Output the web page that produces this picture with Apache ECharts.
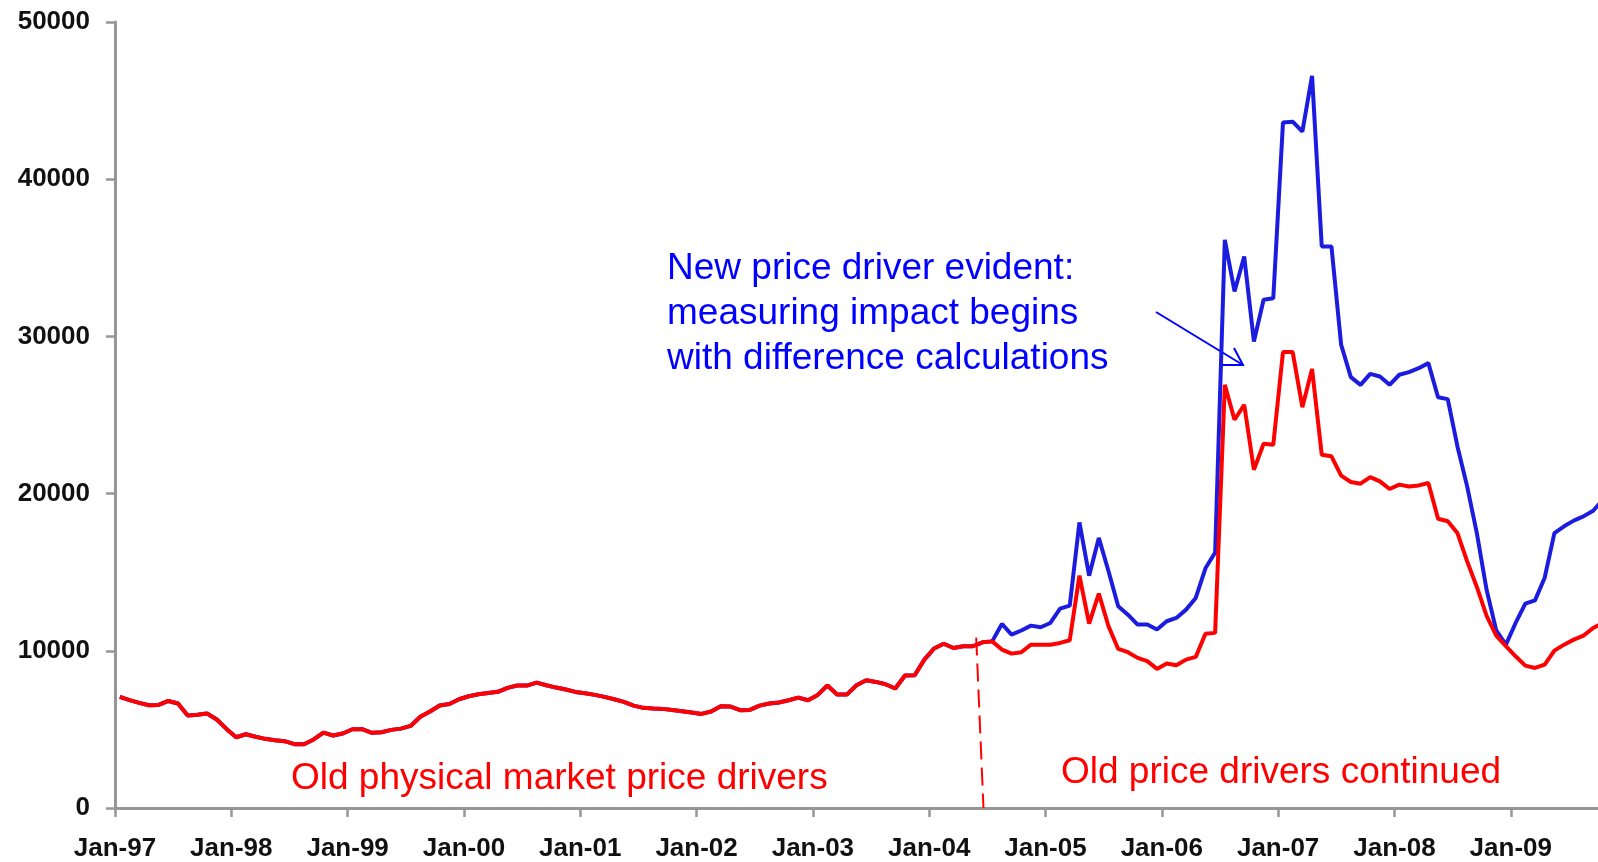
<!DOCTYPE html>
<html><head><meta charset="utf-8">
<script src="https://cdn.jsdelivr.net/npm/echarts/dist/echarts.min.js"></script>
<style>html,body{margin:0;padding:0;background:#fff;}#c{width:1598px;height:862px;}</style>
</head><body><div id="c"></div>
<script>
// x tick labels (one per January, every 12 months from Jan-97)
const tickLabels = ['Jan-97','Jan-98','Jan-99','Jan-00','Jan-01','Jan-02','Jan-03','Jan-04','Jan-05','Jan-06','Jan-07','Jan-08','Jan-09'];
// monthly values Jan-97 .. Jul-04 where both series coincide
const sharedValues = [
 7070,6860,6690,6540,6560,6810,6650,5880,5930,6010,5630,5030,
 4500,4690,4530,4400,4310,4250,4060,4060,4360,4800,4610,4740,
 5010,5010,4780,4820,4970,5050,5220,5800,6140,6520,6620,6920,
 7110,7240,7320,7390,7640,7790,7790,7980,7810,7660,7535,7385,
 7300,7195,7070,6920,6750,6515,6370,6325,6305,6240,6155,6070,
 5985,6135,6475,6455,6220,6240,6515,6645,6710,6855,7025,6855,
 7195,7790,7215,7215,7810,8125,8020,7870,7600,8425,8445,9440,
 10150,10450,10180,10290,10290,10540,10600
];
// Aug-04 .. Oct-09 : old price drivers (red)
const redAfter = [
 10080,9820,9910,10390,10390,
 10390,10500,10670,14780,11730,13640,11560,10120,9910,9550,9340,8850,
 9190,9080,9440,9610,11090,11140,26920,24700,25650,21520,23170,23110,
 29000,29000,25500,27920,22470,22370,21140,20740,20630,21050,20780,20290,
 20570,20450,20520,20670,18400,18240,17490,15690,14060,12240,10970,10300,
 9650,9060,8910,9120,10010,10390,10710,10970,11450,11770
];
// Aug-04 .. Oct-09 : including new price driver (blue)
const blueAfter = [
 11710,11030,11290,11600,11500,
 11770,12680,12870,18170,14780,17180,15060,12830,12300,11670,11670,11350,
 11880,12090,12620,13360,15250,16250,36140,32860,35080,29680,32330,32430,
 43600,43660,43030,46570,35720,35720,29470,27410,26920,27620,27450,26920,
 27560,27730,27980,28300,26130,26010,23000,20460,17490,13900,11300,10390,
 11770,13000,13210,14650,17490,17920,18280,18550,18910,19600
];

// each monthly point sits mid-month (half a month after its tick)
const redSeries = sharedValues.concat(redAfter).map((v,i)=>[i+0.5,v]);
const blueSeries = sharedValues.concat(blueAfter).map((v,i)=>[i+0.5,v]);
const axisMax = 153;

const chart = echarts.init(document.getElementById('c'), null, {renderer:'canvas'});
const axisFont = {fontFamily:'"Liberation Sans", Arial, sans-serif', fontWeight:'bold', fontSize:26, color:'#111'};
const annFont = '37px "Liberation Sans", Arial, sans-serif';

chart.setOption({
  animation:false,
  backgroundColor:'#fff',
  grid:{left:115, right:0, top:22, bottom:54, containLabel:false},
  xAxis:{
    type:'value', min:0, max:axisMax, interval:12,
    splitLine:{show:false},
    axisLine:{show:true, onZero:false, lineStyle:{color:'#969696', width:3}},
    axisTick:{show:true, length:9, lineStyle:{color:'#969696', width:2.5}},
    axisLabel:Object.assign({margin:28, showMaxLabel:false,
      formatter:(v)=> (v % 12 === 0 && tickLabels[v/12]) ? tickLabels[v/12] : ''}, axisFont)
  },
  yAxis:{
    type:'value', min:0, max:50000, interval:10000,
    splitLine:{show:false},
    axisLine:{show:true, lineStyle:{color:'#969696', width:3}},
    axisTick:{show:true, length:9, lineStyle:{color:'#969696', width:2.5}},
    axisLabel:Object.assign({margin:25, formatter:(v)=>String(v)}, axisFont)
  },
  series:[
    {type:'line', name:'New price driver', data:blueSeries, showSymbol:false, z:2, clip:true,
     lineStyle:{color:'#1c1ce0', width:4}},
    {type:'line', name:'Old price drivers', data:redSeries, showSymbol:false, z:3, clip:true,
     lineStyle:{color:'#ff0000', width:4},
     markLine:{silent:true, symbol:['none','none'], label:{show:false},
       lineStyle:{color:'#ff0000', width:2, type:[18,8]},
       data:[[{coord:[88.85,10840]},{coord:[89.6,0]}]]}
    }
  ],
  graphic:[
    {type:'text', x:667, y:246, silent:true,
     style:{text:'New price driver evident:\nmeasuring impact begins\nwith difference calculations',
       fill:'#0000ff', font:annFont, lineHeight:45, textAlign:'left', textVerticalAlign:'top', align:'left', verticalAlign:'top'}},
    {type:'text', x:291, y:779, silent:true,
     style:{text:'Old physical market price drivers', fill:'#ff0000', font:annFont,
       textAlign:'left', textVerticalAlign:'middle', align:'left', verticalAlign:'middle'}},
    {type:'text', x:1061, y:773, silent:true,
     style:{text:'Old price drivers continued', fill:'#ff0000', font:annFont,
       textAlign:'left', textVerticalAlign:'middle', align:'left', verticalAlign:'middle'}},
    {type:'polyline', silent:true, shape:{points:[[1156,312],[1243,365]]},
     style:{stroke:'#0000ff', lineWidth:2, fill:null}},
    {type:'polyline', silent:true, shape:{points:[[1234,348],[1243,365],[1222,365]]},
     style:{stroke:'#0000ff', lineWidth:2, fill:null}}
  ]
});
</script>
</body></html>
